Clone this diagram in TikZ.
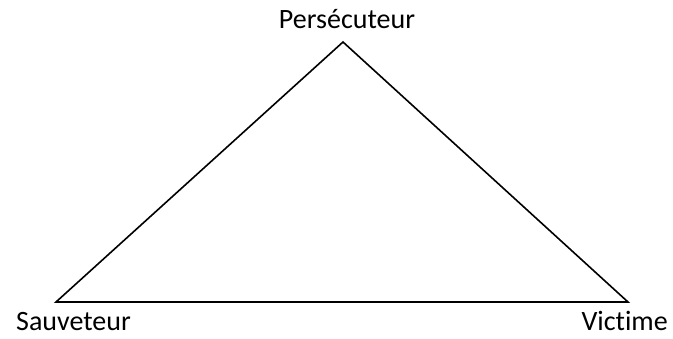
\documentclass[tikz,border=0pt]{standalone}
\usepackage{fontspec}
\setmainfont{Carlito}[Ligatures={NoCommon}]
\begin{document}
\begin{tikzpicture}[x=1pt,y=-1pt,
  lbl/.style={inner sep=0pt,font=\fontsize{28}{30}\selectfont},
  edge/.style={draw=black,line width=1.6pt,line join=miter}]
\useasboundingbox (0,0) rectangle (673,338);
\coordinate (top) at (343,42);
\coordinate (bl) at (56,302);
\coordinate (br) at (628,302);
\draw[edge] (top) -- (bl) -- (br) -- cycle;
\node[lbl,anchor=base] (pers) at (347,28) {Persécuteur};
\node[lbl,anchor=base west] (sauv) at (16,330) {Sauveteur};
\node[lbl,anchor=base east] (vict) at (668,330) {Victime};
\end{tikzpicture}
\end{document}
